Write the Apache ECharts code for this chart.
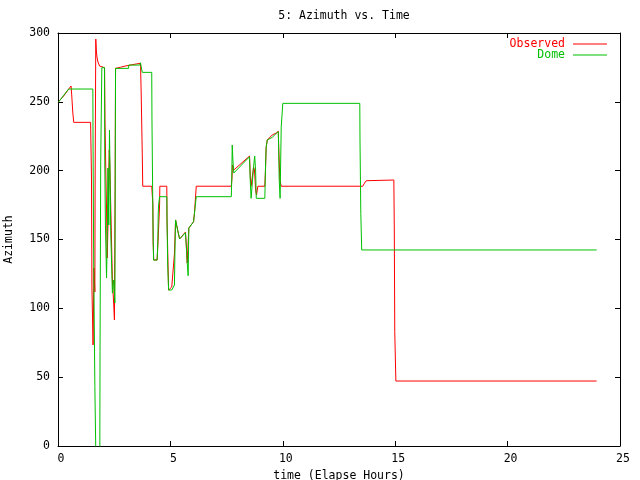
<!DOCTYPE html>
<html><head><meta charset="utf-8">
<script src="https://cdn.jsdelivr.net/npm/echarts@6/dist/echarts.min.js"></script>
<style>html,body{margin:0;padding:0;background:#fff}#c{width:640px;height:480px}</style>
</head><body><div id="c"></div><script>
const xTicks = [0, 5, 10, 15, 20, 25];
const yTicks = [0, 50, 100, 150, 200, 250, 300];

const obsHours = [0.02,0.25,0.51,0.58,0.61,0.66,0.70,1.45,1.49,1.51,1.56,1.60,1.64,1.65,1.68,1.71,1.74,1.78,1.85,1.91,2.07,2.09,2.13,2.16,2.19,2.22,2.25,2.28,2.30,2.34,2.42,2.48,2.51,2.54,2.56,2.78,2.99,3.48,3.67,3.70,3.75,3.77,4.17,4.22,4.23,4.26,4.41,4.45,4.52,4.53,4.84,4.85,4.88,4.92,5.06,5.18,5.23,5.29,5.35,5.41,5.67,5.70,5.75,5.82,6.03,6.07,6.15,7.71,7.74,7.76,7.82,8.52,8.55,8.59,8.65,8.70,8.74,8.79,8.83,8.89,9.20,9.23,9.26,9.31,9.53,9.71,9.80,9.82,9.87,9.93,13.56,13.61,13.71,14.94,14.96,14.98,15.03,23.96];
const obsAzimuth = [250.1,254.2,260.0,261.5,255.0,241.9,235.1,235.1,194.7,114.8,73.4,129.3,111.9,185.2,295.6,286.2,281.8,278.9,276.0,274.8,274.8,236.8,196.8,171.4,136.6,158.3,191.0,215.0,207.7,178.7,120.6,102.4,91.5,186.0,274.3,275.1,276.0,277.5,278.0,256.4,210.6,188.7,188.7,175.6,148.4,135.1,135.1,148.4,175.8,188.7,188.7,164.2,142.4,113.3,115.5,139.5,164.2,165.6,154.7,150.4,155.4,147.5,132.9,158.3,162.9,169.0,188.7,188.7,194.7,204.1,200.5,210.6,196.8,188.7,188.7,202.7,200.5,186.0,182.3,188.7,188.7,200.5,217.0,222.3,225.9,227.4,228.6,216.5,193.2,188.7,188.7,190.3,192.7,193.2,156.9,83.0,47.2,47.2];

const domeHours = [0.02,0.47,1.55,1.56,1.59,1.64,1.68,1.86,1.87,1.90,1.95,2.07,2.08,2.11,2.16,2.20,2.22,2.26,2.29,2.35,2.42,2.48,2.53,2.56,3.14,3.15,3.63,3.67,3.70,3.75,4.17,4.18,4.22,4.25,4.41,4.44,4.46,4.48,4.52,4.84,4.85,4.88,4.92,5.06,5.18,5.20,5.23,5.29,5.35,5.41,5.67,5.70,5.75,5.79,5.82,6.03,6.07,6.15,7.71,7.73,7.75,7.78,7.82,7.85,8.52,8.55,8.59,8.67,8.70,8.75,8.79,8.82,9.20,9.23,9.26,9.31,9.53,9.71,9.80,9.84,9.88,9.93,10.00,13.425,13.434,13.47,13.51,23.96];
const domeAzimuth = [249.7,259.3,259.3,216.5,129.3,43.1,-3,-3,68.5,206.5,274.8,274.8,206.5,160.5,122.0,160.5,201.9,160.5,229.5,153.3,111.1,120.6,103.9,274.3,274.3,276.7,276.7,278.4,275.3,271.4,271.4,237.5,169.2,135.1,135.1,148.4,169.2,175.8,181.1,181.1,164.2,131.5,113.3,113.3,116.9,139.5,164.2,165.6,154.7,150.4,154.9,147.5,132.9,123.7,158.3,162.9,169.0,181.1,181.1,194.7,218.6,207.7,198.3,199.2,210.1,193.2,179.9,179.9,202.9,210.6,200.5,179.9,179.9,201.9,217.0,222.3,224.2,227.1,228.3,193.2,179.9,231.9,248.9,248.9,222.3,169.0,142.4,142.4];

const FONT = 'DejaVu Sans Mono';
const zip = (a, b) => a.map((v, i) => [v, b[i]]);

const chart = echarts.init(document.getElementById('c'), null, {renderer: 'canvas'});
const baseX = {
  type: 'value', min: xTicks[0], max: xTicks[xTicks.length - 1], interval: xTicks[1] - xTicks[0],
  splitLine: {show: false},
  axisLine: {show: true, onZero: false, lineStyle: {color: '#000', width: 1}},
  axisTick: {show: true, inside: true, length: 5, lineStyle: {color: '#000'}}
};
const baseY = {
  type: 'value', min: yTicks[0], max: yTicks[yTicks.length - 1], interval: yTicks[1] - yTicks[0],
  splitLine: {show: false},
  axisLine: {show: true, onZero: false, lineStyle: {color: '#000', width: 1}},
  axisTick: {show: true, inside: true, length: 5, lineStyle: {color: '#000'}}
};
chart.setOption({
  animation: false,
  backgroundColor: '#fff',
  title: {
    text: '5: Azimuth vs. Time', left: 339, top: 5, textAlign: 'center',
    textStyle: {fontFamily: FONT, fontSize: 11.5, fontWeight: 'normal', color: '#000'}
  },
  legend: {
    orient: 'vertical', right: 28, top: 33, align: 'right',
    icon: 'rect', itemWidth: 34, itemHeight: 1, itemGap: -1,
    textStyle: {fontFamily: FONT, fontSize: 11.5, padding: [0, 3, 0, 0]},
    data: [
      {name: 'Observed', textStyle: {color: '#ff0000'}},
      {name: 'Dome', textStyle: {color: '#00c000'}}
    ]
  },
  grid: {left: 58, right: 20, top: 33, bottom: 34, containLabel: false, outerBoundsMode: 'none'},
  xAxis: [
    Object.assign({}, baseX, {
      position: 'bottom',
      name: 'time (Elapse Hours)', nameLocation: 'middle', nameGap: 14,
      nameTextStyle: {fontFamily: FONT, fontSize: 11.5, color: '#000'},
      axisLabel: {fontFamily: FONT, fontSize: 11.5, color: '#000', margin: 7, padding: [0, 0, 0, 6]}
    }),
    Object.assign({}, baseX, {position: 'top', axisLabel: {show: false}})
  ],
  yAxis: [
    Object.assign({}, baseY, {
      position: 'left',
      name: 'Azimuth', nameLocation: 'middle', nameGap: 43, nameRotate: 90,
      nameTextStyle: {fontFamily: FONT, fontSize: 11.5, color: '#000'},
      axisLabel: {fontFamily: FONT, fontSize: 11.5, color: '#000', margin: 8}
    }),
    Object.assign({}, baseY, {position: 'right', axisLabel: {show: false}})
  ],
  series: [
    {
      name: 'Observed', type: 'line', xAxisIndex: 0, yAxisIndex: 0,
      data: zip(obsHours, obsAzimuth), symbol: 'none', clip: true,
      lineStyle: {color: '#ff0000', width: 1}, itemStyle: {color: '#ff0000'}
    },
    {
      name: 'Dome', type: 'line', xAxisIndex: 0, yAxisIndex: 0,
      data: zip(domeHours, domeAzimuth), symbol: 'none', clip: true,
      lineStyle: {color: '#00c000', width: 1}, itemStyle: {color: '#00c000'}
    }
  ]
});
</script></body></html>
